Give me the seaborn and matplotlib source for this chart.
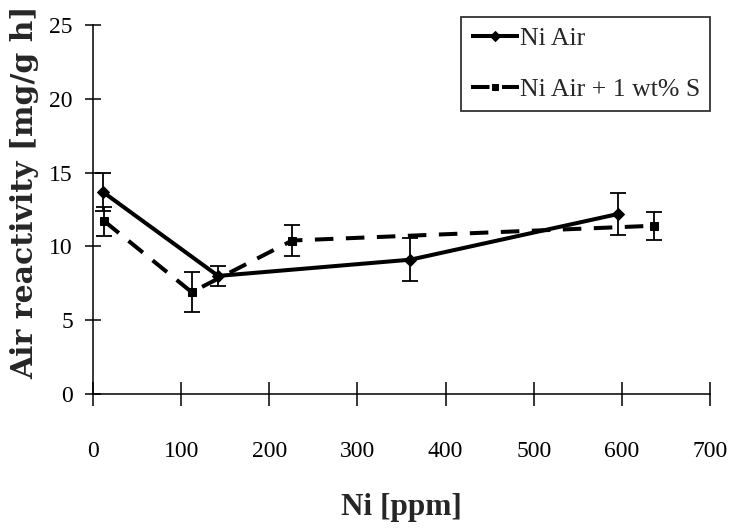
import matplotlib
matplotlib.use("Agg")
import matplotlib.pyplot as plt
import seaborn as sns
import pandas as pd

# Measured air reactivity vs nickel content
ni_air_ppm = [11, 142, 360, 596]
ni_air_rate = [13.7, 8.0, 9.1, 12.2]
ni_air_err = [1.3, 0.7, 1.45, 1.4]

ni_s_ppm = [13, 112, 226, 636]
ni_s_rate = [11.7, 6.9, 10.4, 11.4]
ni_s_err = [1.0, 1.35, 1.05, 0.95]

labels = ["Ni Air", "Ni Air + 1 wt% S"]
x_ticks = [0, 100, 200, 300, 400, 500, 600, 700]
y_ticks = [0, 5, 10, 15, 20, 25]

df = pd.concat([
    pd.DataFrame({"ppm": ni_air_ppm, "rate": ni_air_rate, "err": ni_air_err, "series": labels[0]}),
    pd.DataFrame({"ppm": ni_s_ppm, "rate": ni_s_rate, "err": ni_s_err, "series": labels[1]}),
])

sns.set_theme(style="ticks")
plt.rcParams["font.family"] = ["Liberation Serif", "DejaVu Serif"]

fig = plt.figure(figsize=(7.31, 5.29), dpi=100)
ax = fig.add_axes([0.1272, 0.2552, 0.8441, 0.6975])

sns.lineplot(
    data=df, x="ppm", y="rate", hue="series", style="series",
    palette=["black", "black"], dashes=[(1, 0), (4.6, 3.1)],
    markers=["D", "s"], markersize=6, linewidth=2.9,
    markeredgecolor="black", sort=False, ax=ax, legend=True,
)

for _, sub in df.groupby("series", sort=False):
    ax.errorbar(sub["ppm"], sub["rate"], yerr=sub["err"], fmt="none",
                ecolor="black", elinewidth=1.3, capsize=5.5, capthick=1.3, zorder=3)

ax.set_xlim(0, 700)
ax.set_ylim(0, 25)
ax.set_xticks(x_ticks)
ax.set_yticks(y_ticks)
ax.tick_params(axis="x", direction="inout", length=17, width=1.1, pad=25,
               labelsize=17, colors="black")
ax.tick_params(axis="y", direction="inout", length=11, width=1.1, pad=9,
               labelsize=17, colors="black")
for side in ["top", "right"]:
    ax.spines[side].set_visible(False)
for side in ["left", "bottom"]:
    ax.spines[side].set_linewidth(1.1)
    ax.spines[side].set_color("black")

ax.set_xlabel("Ni [ppm]", fontsize=22.5, fontweight="bold", labelpad=23)
ax.set_ylabel("Air reactivity [mg/g h]", fontsize=21.5, fontweight="bold",
              family="DejaVu Serif")
ax.yaxis.set_label_coords(-0.087, 0.547)

leg = ax.legend(
    loc="upper right", bbox_to_anchor=(710 / 731, 1 - 17 / 529),
    bbox_transform=fig.transFigure, borderaxespad=0, fontsize=18.5,
    frameon=True, fancybox=False, edgecolor="black", handlelength=1.85,
    handletextpad=0.05, labelspacing=1.1, borderpad=0.38, title=None,
)
leg.get_frame().set_linewidth(1.3)
for h in leg.get_lines():
    h.set_markersize(5)

fig.savefig("out.png", dpi=100, facecolor="white")
